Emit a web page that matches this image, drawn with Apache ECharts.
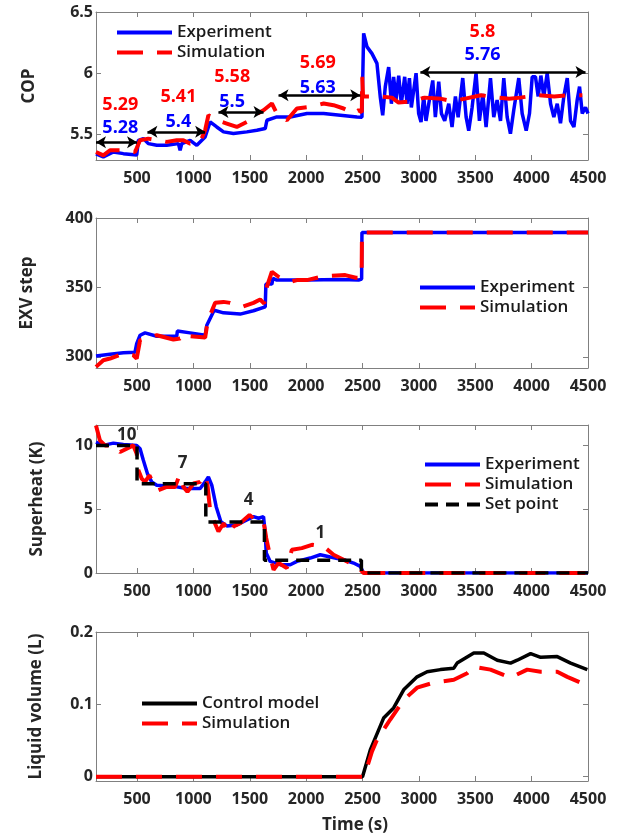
<!DOCTYPE html>
<html>
<head>
<meta charset="utf-8">
<script src="https://cdn.jsdelivr.net/npm/echarts@6/dist/echarts.min.js"></script>
<style>
  html, body { margin: 0; padding: 0; background: #fff; }
  #chart { width: 617px; height: 840px; }
</style>
</head>
<body>
<div id="chart"></div>
<script>
'use strict'

/* axis ticks */
var timeTicks = [500, 1000, 1500, 2000, 2500, 3000, 3500, 4000, 4500];
var copTicks = [5.5, 6, 6.5];
var exvTicks = [300, 350, 400];
var shTicks = [0, 5, 10];
var volTicks = [0, 0.1, 0.2];

/* COP panel: [time, value] */
var copExp = [[136,5.34],[201,5.315],[290,5.355],[379,5.342],[497,5.33],[512,5.451],[556,5.465],[600,5.424],[675,5.41],[763,5.41],[867,5.424],[882,5.37],[897,5.424],[971,5.451],[1030,5.41],[1104,5.478],[1148,5.601],[1207,5.56],[1267,5.52],[1355,5.506],[1474,5.52],[1563,5.533],[1637,5.547],[1652,5.615],[1740,5.642],[1859,5.642],[2007,5.67],[2155,5.67],[2303,5.656],[2451,5.642],[2495,5.64],
  [2510,6.325],[2540,6.215],[2584,6.16],[2628,6.08],[2658,5.80],[2679,5.655],[2702,5.89],[2732,6.05],[2756,5.75],[2776,5.97],[2797,5.78],[2821,5.98],[2844,5.75],[2874,5.97],[2895,5.75],[2916,5.96],[2933,5.72],[2975,6.0],[2998,5.67],[3019,5.60],[3043,5.81],[3063,5.61],[3093,5.78],[3123,5.94],[3146,5.64],[3176,5.93],[3200,5.67],[3229,5.61],[3265,5.75],[3294,5.56],[3324,5.81],[3348,5.64],[3389,5.96],[3419,5.64],[3442,5.53],[3472,5.72],[3507,6.0],[3537,5.61],[3567,5.83],[3596,5.56],[3635,5.96],[3664,5.64],[3694,5.78],[3724,5.61],[3753,5.96],[3783,5.64],[3812,5.505],[3842,5.70],[3886,5.96],[3916,5.67],[3952,5.53],[3981,5.67],[4005,5.97],[4034,5.97],[4058,5.81],[4082,5.98],[4108,5.81],[4138,6.0],[4168,5.75],[4197,5.64],[4227,5.75],[4256,5.59],[4286,5.81],[4316,5.96],[4345,5.61],[4375,5.56],[4404,5.78],[4425,5.89],[4449,5.67],[4478,5.72],[4500,5.67]];
var copSim = [[136,5.355],[201,5.328],[260,5.37],[379,5.37],[482,5.355],[527,5.451],[600,5.465],[763,5.438],[852,5.451],[911,5.451],[971,5.424],[1060,5.438],[1104,5.533],[1133,5.656],[1207,5.615],[1296,5.588],[1385,5.56],[1474,5.601],[1518,5.642],[1622,5.697],[1696,5.752],[1740,5.67],[1829,5.615],[1918,5.711],[2036,5.724],[2155,5.752],[2243,5.738],[2332,5.711],[2421,5.67],[2465,5.697],[2494,5.68],[2497,5.97],[2505,5.81],
  [2640,5.81],[2760,5.80],[2820,5.76],[2940,5.77],[3050,5.80],[3200,5.79],[3300,5.77],[3400,5.79],[3550,5.82],[3700,5.80],[3800,5.79],[3900,5.80],[4050,5.82],[4200,5.81],[4350,5.82],[4450,5.82]];
var copArrows = [[136,500,5.435],[592,1104,5.52],[1222,1622,5.683],[1755,2480,5.82],[3013,4478,6.01]];
var copSimLabels = [[352,5.738,'5.29'],[867,5.803,'5.41'],[1344,5.967,'5.58'],[2103,6.082,'5.69'],[3564,6.336,'5.8']];
var copExpLabels = [[352,5.549,'5.28'],[867,5.598,'5.4'],[1344,5.762,'5.5'],[2103,5.877,'5.63'],[3564,6.148,'5.76']];

/* EXV step panel */
var exvExp = [[136,300.7],[260,301.9],[379,302.9],[482,303.4],[497,309.6],[527,315.6],[571,317.3],[675,314.9],[852,314.9],[858,318.7],[971,317.3],[1104,315.6],[1119,322.8],[1184,333.6],[1267,331.7],[1415,330.8],[1533,333.2],[1637,336.0],[1643,352.4],[1696,352.4],[1705,356.5],[1740,355.3],[2007,355.3],[2303,355.7],[2465,355.3],[2492,356],[2495,389.5],[4500,389.5]];
var exvSim = [[136,292.8],[201,297.6],[260,298.8],[379,302.4],[467,301.2],[497,298.8],[527,312.0],[600,313.2],[675,315.6],[823,312.5],[882,313.2],[941,317.3],[971,314.9],[1104,313.9],[1119,321.6],[1154,331.2],[1193,338.9],[1267,339.6],[1326,338.9],[1385,337.2],[1430,336.0],[1533,338.9],[1592,341.3],[1628,338.4],[1652,350.5],[1696,361.3],[1755,357.7],[1859,354.1],[1918,355.3],[2007,355.3],[2155,358.1],[2347,358.9],[2440,357],[2492,357],[2495,389.5],[4500,389.5]];

/* Superheat panel */
var shExp = [[136,10.26],[201,10.0],[290,10.18],[379,10.08],[497,10.0],[527,9.74],[556,8.83],[592,7.79],[630,7.14],[675,6.88],[763,6.81],[852,6.75],[941,6.62],[1060,6.62],[1104,7.14],[1133,7.53],[1163,6.88],[1202,5.2],[1243,4.03],[1296,3.69],[1385,3.77],[1474,4.16],[1533,4.42],[1578,4.29],[1622,4.42],[1637,3.12],[1646,1.56],[1681,0.91],[1770,0.65],[1859,0.65],[1918,0.91],[2036,1.17],[2125,1.43],[2214,1.25],[2332,1.04],[2421,0.78],[2480,0.52],[2510,0],[4500,0]];
var shSim = [[136,11.56],[171,10.39],[216,10.0],[290,10.0],[349,9.48],[408,9.74],[467,10.0],[497,9.35],[512,8.05],[541,7.4],[571,7.14],[610,7.66],[645,7.01],[690,6.49],[763,6.75],[838,6.75],[876,7.66],[911,6.75],[947,6.36],[1000,7.01],[1060,7.14],[1104,7.66],[1125,6.88],[1148,4.94],[1178,4.16],[1222,3.25],[1267,3.9],[1311,3.12],[1355,3.64],[1415,3.9],[1498,4.55],[1548,4.16],[1622,4.03],[1646,2.73],[1681,1.3],[1711,0.26],[1755,0.78],[1829,0.39],[1873,1.82],[1962,1.95],[2051,2.21],[2155,2.08],[2243,1.43],[2332,1.04],[2451,0.52],[2510,0],[4500,0]];
var shSet = [[136,10],[500,10],[500,7],[1110,7],[1110,4],[1630,4],[1630,1],[2490,1],[2490,0],[4500,0]];
var shLabels = [[408,10.78,'10'],[905,8.62,'7'],[1489,5.72,'4'],[2125,3.12,'1']];

/* Liquid volume panel */
var volCtrl = [[136,0],[2500,0],[2510,0.002],[2569,0.037],[2687,0.081],[2776,0.095],[2865,0.12],[2984,0.138],[3073,0.145],[3191,0.148],[3310,0.15],[3339,0.157],[3487,0.171],[3576,0.171],[3695,0.161],[3813,0.157],[3872,0.161],[3991,0.17],[4080,0.165],[4227,0.166],[4346,0.157],[4494,0.148]];
var volSim = [[136,0],[2500,0],[2525,0.005],[2584,0.035],[2628,0.051],[2746,0.079],[2865,0.106],[2984,0.123],[3132,0.13],[3310,0.134],[3428,0.143],[3487,0.152],[3635,0.148],[3813,0.137],[3961,0.148],[4080,0.145],[4227,0.145],[4316,0.138],[4479,0.127]];

var BLUE = '#0000ff', RED = '#ff0000', BLACK = '#000000', FRAME = '#808080', TXT = '#262626';
var FONT = 'Open Sans';

var chart = echarts.init(document.getElementById('chart'));

var grids = [
    { left: 96, right: 29, top: 12, height: 148 },
    { left: 96, right: 29, top: 218, height: 150 },
    { left: 96, right: 29, top: 425, height: 148 },
    { left: 96, right: 29, top: 632, height: 149 }
];

var tickLabel = {
    color: TXT, fontFamily: FONT, fontWeight: 'bold', fontSize: 16,
    formatter: function (v) { return String(v); }
};

function xAxisFor(i, pos) {
    var ax = {
        type: 'value', gridIndex: i, position: pos, min: 136, max: 4500,
        axisLine: { show: true, onZero: false, lineStyle: { color: FRAME, width: 1 } },
        axisTick: { show: true, inside: true, length: 5, customValues: timeTicks, lineStyle: { color: FRAME } },
        axisLabel: Object.assign({ show: pos === 'bottom', customValues: timeTicks, margin: 10 }, tickLabel),
        splitLine: { show: false }
    };
    if (i === 3 && pos === 'bottom') {
        ax.name = 'Time (s)';
        ax.nameLocation = 'middle';
        ax.nameGap = 36;
        ax.nameTextStyle = { color: TXT, fontFamily: FONT, fontWeight: 'bold', fontSize: 17, padding: [0, 0, 0, 26] };
    }
    return ax;
}

function yAxisFor(i, pos, min, max, ticks, name, gap) {
    var ax = {
        type: 'value', gridIndex: i, position: pos, min: min, max: max,
        axisLine: { show: true, onZero: false, lineStyle: { color: FRAME, width: 1 } },
        axisTick: { show: true, inside: true, length: 5, customValues: ticks, lineStyle: { color: FRAME } },
        axisLabel: Object.assign({ show: pos === 'left', customValues: ticks, margin: 3 }, tickLabel),
        splitLine: { show: false }
    };
    if (pos === 'left') {
        ax.name = name;
        ax.nameLocation = 'middle';
        ax.nameGap = gap;
        ax.nameTextStyle = { color: TXT, fontFamily: FONT, fontWeight: 'bold', fontSize: 17 };
    }
    return ax;
}

var xAxes = [], yAxes = [];
var yCfg = [
    [5.29, 6.5, copTicks, 'COP', 58],
    [292, 400, exvTicks, 'EXV step', 60],
    [0, 11.6, shTicks, 'Superheat (K)', 50],
    [-0.006, 0.2, volTicks, 'Liquid volume (L)', 51]
];
for (var i = 0; i < 4; i++) {
    xAxes.push(xAxisFor(i, 'bottom'));
    xAxes.push(xAxisFor(i, 'top'));
    var c = yCfg[i];
    yAxes.push(yAxisFor(i, 'left', c[0], c[1], c[2], c[3], c[4]));
    yAxes.push(yAxisFor(i, 'right', c[0], c[1], c[2], c[3], c[4]));
}

function line(name, panel, data, color, width, dash, z) {
    return {
        name: name, type: 'line', xAxisIndex: panel * 2, yAxisIndex: panel * 2,
        data: data, symbol: 'none', showSymbol: false, z: z,
        lineStyle: { color: color, width: width, type: dash || 'solid' },
        itemStyle: { color: color }
    };
}

function textMarks(list, color, size) {
    return {
        symbol: 'circle', symbolSize: 0, silent: true,
        label: { show: true, position: 'inside', color: color, fontFamily: FONT, fontWeight: 'bold', fontSize: size, formatter: function (p) { return p.name; } },
        data: list.map(function (d) { return { name: d[2], coord: [d[0], d[1]] }; })
    };
}

var SIM_DASH = [26, 14];
var SET_DASH = [13, 8];

var sCopExp = line('Experiment', 0, copExp, BLUE, 3.5, null, 2);
sCopExp.markPoint = textMarks(copExpLabels, BLUE, 18);
var sCopSim = line('Simulation', 0, copSim, RED, 4, SIM_DASH, 3);
sCopSim.markPoint = textMarks(copSimLabels, RED, 18);
var sArrows = {
    name: 'arrows', type: 'line', xAxisIndex: 0, yAxisIndex: 0, data: [], z: 5,
    markLine: {
        silent: true, symbol: ['arrow', 'arrow'], symbolSize: [9, 10],
        lineStyle: { color: BLACK, width: 2.5, type: 'solid' },
        label: { show: false },
        data: copArrows.map(function (a) { return [{ coord: [a[0], a[2]] }, { coord: [a[1], a[2]] }]; })
    }
};

var sSet = line('Set point', 2, shSet, BLACK, 3.5, SET_DASH, 4);
sSet.markPoint = textMarks(shLabels, TXT, 17);

var series = [
    sCopExp, sCopSim, sArrows,
    line('Experiment', 1, exvExp, BLUE, 3.5, null, 2),
    line('Simulation', 1, exvSim, RED, 4, SIM_DASH, 3),
    line('Experiment', 2, shExp, BLUE, 3.5, null, 2),
    line('Simulation', 2, shSim, RED, 4, SIM_DASH, 3),
    sSet,
    line('Control model', 3, volCtrl, BLACK, 3.5, null, 2),
    line('Simulation', 3, volSim, RED, 4, SIM_DASH, 3)
];

function legendAt(left, top, names) {
    return {
        orient: 'vertical', left: left, top: top, data: names,
        itemWidth: 55, itemHeight: 16, itemGap: 3, selectedMode: false,
        itemStyle: { opacity: 0 },
        lineStyle: { width: 4 },
        textStyle: { color: '#1a1a1a', fontFamily: FONT, fontWeight: 600, fontSize: 17 }
    };
}

chart.setOption({
    animation: false,
    grid: grids,
    xAxis: xAxes,
    yAxis: yAxes,
    legend: [
        legendAt(110, 19, ['Experiment', 'Simulation']),
        legendAt(413, 274, ['Experiment', 'Simulation']),
        legendAt(418, 451, ['Experiment', 'Simulation', 'Set point']),
        legendAt(135, 690, ['Control model', 'Simulation'])
    ],
    series: series
});
</script>
</body>
</html>
